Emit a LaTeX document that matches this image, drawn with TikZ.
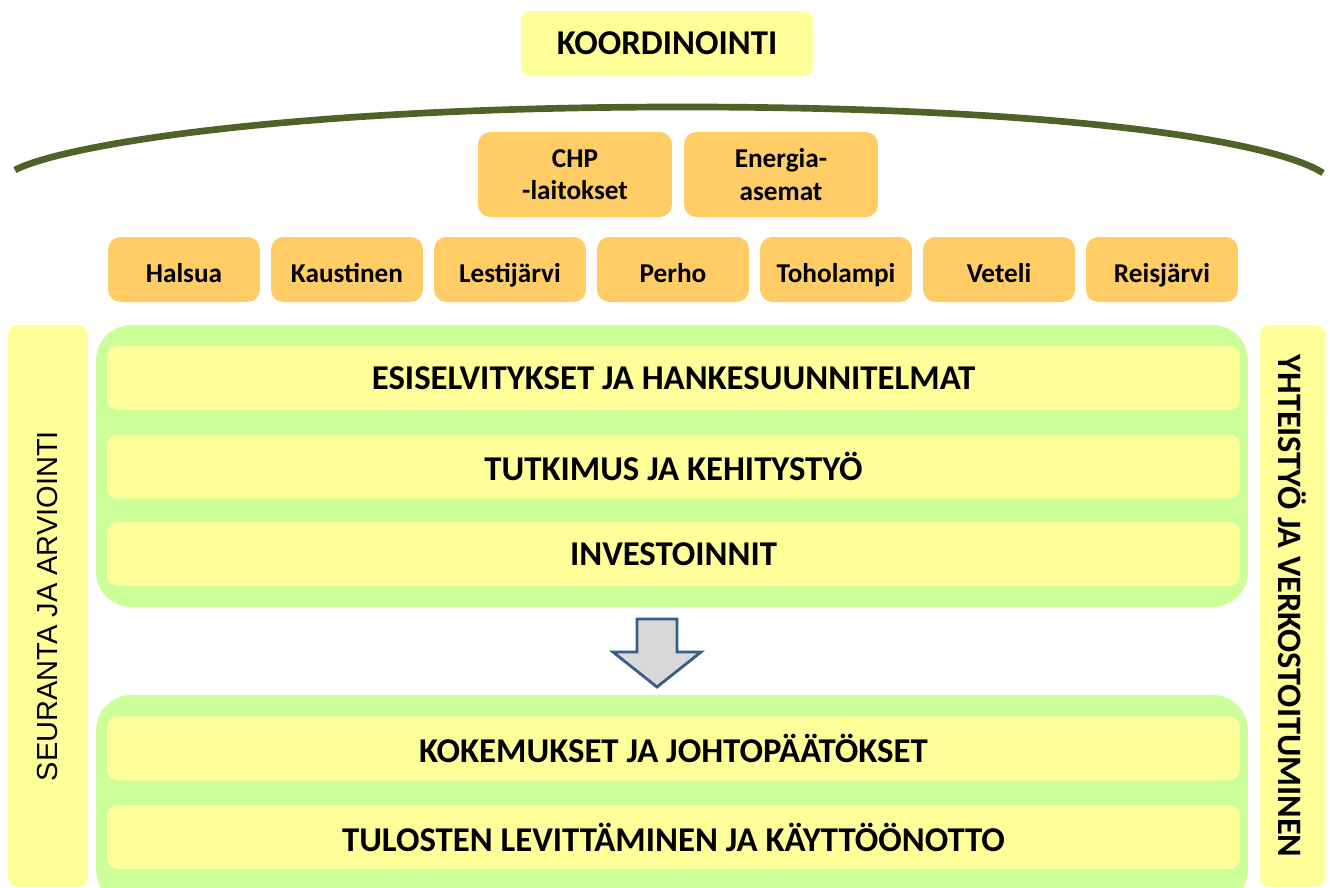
\documentclass[tikz,border=0pt]{standalone}
\usepackage{fontspec}
\setmainfont{Carlito}
\newfontfamily\arialfont{Liberation Sans}
\usetikzlibrary{positioning}

\definecolor{lyellow}{RGB}{255,255,153}
\definecolor{lgreen}{RGB}{204,255,153}
\definecolor{lorange}{RGB}{255,204,102}
\definecolor{arcgreen}{RGB}{79,98,40}
\definecolor{arrowblue}{RGB}{56,93,138}
\definecolor{arrowgray}{RGB}{217,217,217}

\tikzset{
  topbox/.style={fill=lyellow, rounded corners=5pt, inner sep=0pt,
    minimum width=5.84cm, minimum height=1.3cm, font=\fontsize{19.8}{21}\selectfont\bfseries},
  plantbox/.style={fill=lorange, rounded corners=7pt, inner sep=0pt, align=center,
    minimum width=3.88cm, minimum height=1.7cm, font=\fontsize{15.5}{18.5}\selectfont\bfseries},
  townbox/.style={fill=lorange, rounded corners=7pt, inner sep=0pt,
    minimum width=3.04cm, minimum height=1.3cm, text height=14.5pt, text depth=0pt,
    font=\fontsize{15.5}{17}\selectfont\bfseries},
  groupbox/.style={fill=lgreen, rounded corners=20pt, inner sep=0pt, minimum width=23.04cm},
  phasebar/.style={fill=lyellow, rounded corners=6pt, inner sep=0pt,
    minimum width=22.66cm, minimum height=1.28cm, font=\fontsize{19.8}{21}\selectfont\bfseries},
  sidebar/.style={fill=lyellow, rounded corners=5pt, inner sep=0pt, minimum height=11.24cm}
}

\begin{document}
\begin{tikzpicture}[x=0.02cm, y=-0.02cm]
    \useasboundingbox (0,0) rectangle (1330,887);
    \clip (0,0) rectangle (1330,887);
    % Coordination
    \node[topbox] (koord) at (667,43.5) {KOORDINOINTI};
    % Arc
    \coordinate (arcL) at (15,170);
    \coordinate (arcM) at (666,107);
    \coordinate (arcR) at (1323,173);
    \draw[arcgreen, line width=3.8pt] (arcL) .. controls (60,146) and (280,108) .. (arcM)
        .. controls (1052,106) and (1272,140) .. (arcR);
    % Plants
    \node[plantbox] (chp) at (575,174.5) {CHP\\-laitokset};
    \node[plantbox] (energia) at (781,174.5) {Energia-\\asemat};
    % Municipalities
    \foreach \name [count=\i from 0] in {Halsua,Kaustinen,Lestij\"arvi,Perho,Toholampi,Veteli,Reisj\"arvi}
        \node[townbox] (town\i) at (184+163*\i,269.5) {\name};
    % Side bars
    \node[sidebar, minimum width=1.6cm] (seuranta) at (48,606)
        {\rotatebox{90}{\arialfont\fontsize{16.5}{18}\selectfont SEURANTA JA ARVIOINTI}};
    \node[sidebar, minimum width=1.3cm] (yhteistyo) at (1292.5,606)
        {\rotatebox{-90}{\fontsize{19.5}{21}\selectfont\bfseries YHTEISTYÖ JA VERKOSTOITUMINEN}};
    % Upper group
    \node[groupbox, minimum height=5.64cm] (upper) at (672,466) {};
    \node[phasebar] (esisel) at (673.5,378) {ESISELVITYKSET JA HANKESUUNNITELMAT};
    \node[phasebar] (tutkimus) at (673.5,466.5) {TUTKIMUS JA KEHITYSTYÖ};
    \node[phasebar] (invest) at (673.5,554) {INVESTOINNIT};
    % Arrow
    \draw[arrowblue, fill=arrowgray, line width=1.6pt, line join=miter]
        (637,619) -- (677,619) -- (677,652) -- (701,652) -- (657,687)
        -- (613,652) -- (637,652) -- cycle;
    % Lower group
    \node[groupbox, minimum height=4.2cm] (lower) at (672,800) {};
    \node[phasebar] (kokemus) at (673.5,748.5) {KOKEMUKSET JA JOHTOPÄÄTÖKSET};
    \node[phasebar] (tulos) at (673.5,837) {TULOSTEN LEVITTÄMINEN JA KÄYTTÖÖNOTTO};
\end{tikzpicture}
\end{document}
